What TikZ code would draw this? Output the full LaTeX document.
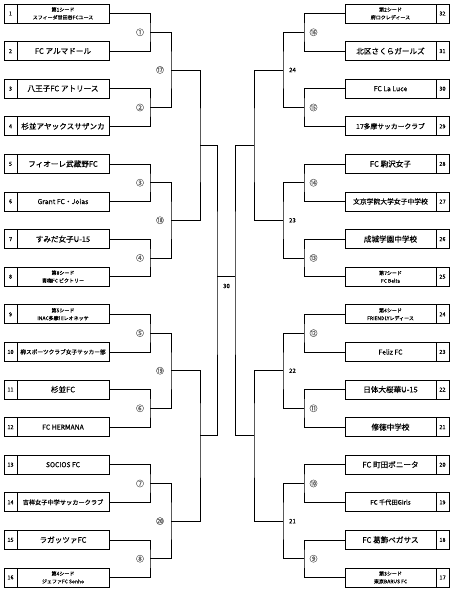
\documentclass[tikz,border=0pt]{standalone}
\usepackage{fontspec}
\setmainfont{Noto Sans CJK JP}[FakeBold=0.4]
\newfontfamily\circfont{Noto Sans CJK JP}[FakeBold=1]
\begin{document}
\begin{tikzpicture}[x=1pt,y=-1pt,
  line/.style={line width=0.8pt},
  numcell/.style={draw, line width=0.8pt, minimum width=13pt, minimum height=19pt, inner sep=0pt, font=\fontsize{5.5}{6}\selectfont},
  namecell/.style={draw, line width=0.8pt, minimum width=92pt, minimum height=19pt, inner sep=0pt, align=center, font=\fontsize{7.6}{8}\selectfont},
  rnamecell/.style={namecell, minimum width=91pt},
  seed/.style={font=\fontsize{5}{7.8}\selectfont},
  small/.style={font=\fontsize{6.8}{8}\selectfont},
  tiny/.style={font=\fontsize{6.2}{8}\selectfont},
  tinier/.style={font=\fontsize{5.7}{8}\selectfont},
  rlabel/.style={font=\circfont\fontsize{8}{8}\selectfont, text=black!60, inner sep=0pt},
  nlabel/.style={font=\fontsize{6}{7}\selectfont, inner sep=0pt}
]
\useasboundingbox (0,0) rectangle (454,589);

% ---------- number cells ----------
\foreach \i in {1,...,16}{
  \pgfmathsetmacro\yy{13.5+(\i-1)*37.6}
  \node[numcell] (Ln\i) at (10.5,\yy) {\i};
  \pgfmathtruncatemacro\rn{33-\i}
  \node[numcell] (Rn\i) at (442.5,\yy) {\rn};
}

% ---------- left names ----------
\node[namecell,seed] (L1) at (63,13.5) {第1シード\\スフィーダ世田谷FCユース};
\node[namecell] (L2) at (63,51.1) {FC アルマドール};
\node[namecell] (L3) at (63,88.7) {八王子FC アトリース};
\node[namecell] (L4) at (63,126.3) {杉並アヤックスサザンカ};
\node[namecell] (L5) at (63,163.9) {フィオーレ武蔵野FC};
\node[namecell,small] (L6) at (63,201.5) {Grant FC・Joias};
\node[namecell] (L7) at (63,239.1) {すみだ女子U-15};
\node[namecell,seed] (L8) at (63,276.7) {第8シード\\青梅FC ビクトリー};
\node[namecell,seed] (L9) at (63,314.3) {第5シード\\INAC多摩川レオネッサ};
\node[namecell,tinier] (L10) at (63,351.9) {柳スポーツクラブ女子サッカー部};
\node[namecell] (L11) at (63,389.5) {杉並FC};
\node[namecell,small] (L12) at (63,427.1) {FC HERMANA};
\node[namecell,small] (L13) at (63,464.7) {SOCIOS FC};
\node[namecell,tiny] (L14) at (63,502.3) {吉祥女子中学サッカークラブ};
\node[namecell] (L15) at (63,539.9) {ラガッツァFC};
\node[namecell,seed] (L16) at (63,577.5) {第4シード\\ジェファFC Sonho};

% ---------- right names ----------
\node[rnamecell,seed] (R1) at (390.5,13.5) {第2シード\\府ロクレディース};
\node[rnamecell] (R2) at (390.5,51.1) {北区さくらガールズ};
\node[rnamecell,small] (R3) at (390.5,88.7) {FC La Luce};
\node[rnamecell,small] (R4) at (390.5,126.3) {17多摩サッカークラブ};
\node[rnamecell] (R5) at (390.5,163.9) {FC 駒沢女子};
\node[rnamecell,small] (R6) at (390.5,201.5) {文京学院大学女子中学校};
\node[rnamecell] (R7) at (390.5,239.1) {成城学園中学校};
\node[rnamecell,seed] (R8) at (390.5,276.7) {第7シード\\FC Belta};
\node[rnamecell,seed] (R9) at (390.5,314.3) {第6シード\\FRIENDLYレディース};
\node[rnamecell,small] (R10) at (390.5,351.9) {Feliz FC};
\node[rnamecell] (R11) at (390.5,389.5) {日体大桜華U-15};
\node[rnamecell] (R12) at (390.5,427.1) {修徳中学校};
\node[rnamecell] (R13) at (390.5,464.7) {FC 町田ボニータ};
\node[rnamecell,tiny] (R14) at (390.5,502.3) {FC 千代田Girls};
\node[rnamecell] (R15) at (390.5,539.9) {FC 葛飾ペガサス};
\node[rnamecell,seed] (R16) at (390.5,577.5) {第3シード\\東京BARUS FC};

% ---------- match points ----------
\foreach \k/\y in {1/32.3,2/107.5,3/182.7,4/257.9,5/333.1,6/408.3,7/483.5,8/558.7}{
  \coordinate (m\k) at (150,\y);
  \coordinate (rm\k) at (304,\y);
}
\foreach \k/\y in {1/69.9,2/220.3,3/370.7,4/521.1}{
  \coordinate (q\k) at (171,\y);
  \coordinate (rq\k) at (283,\y);
}
\coordinate (s1) at (200,145.1);
\coordinate (s2) at (200,435);
\coordinate (rs1) at (254,145.1);
\coordinate (rs2) at (254,435);
\coordinate (fL) at (217,276);
\coordinate (fR) at (235,276);

% ---------- first round ----------
\foreach \k in {1,...,8}{
  \pgfmathtruncatemacro\a{2*\k-1}
  \pgfmathtruncatemacro\b{2*\k}
  \draw[line] (L\a.east) -| (m\k) |- (L\b.east);
  \draw[line] (R\a.west) -| (rm\k) |- (R\b.west);
}
% ---------- second round ----------
\foreach \k in {1,...,4}{
  \pgfmathtruncatemacro\a{2*\k-1}
  \pgfmathtruncatemacro\b{2*\k}
  \draw[line] (m\a) -| (q\k) |- (m\b);
  \draw[line] (rm\a) -| (rq\k) |- (rm\b);
}
% ---------- semifinals ----------
\draw[line] (q1) -| (s1) |- (q2);
\draw[line] (q3) -| (s2) |- (q4);
\draw[line] (rq1) -| (rs1) |- (rq2);
\draw[line] (rq3) -| (rs2) |- (rq4);
% ---------- final ----------
\draw[line] (s1) -| (fL) |- (s2);
\draw[line] (rs1) -| (fR) |- (rs2);
\draw[line] (fL) -- (fR);

% ---------- labels ----------
\foreach \k/\t in {1/①,2/②,3/③,4/④,5/⑤,6/⑥,7/⑦,8/⑧}{
  \node[rlabel] (lab\k) at ([xshift=-10pt]m\k) {\t};
}
\foreach \k/\t in {1/⑯,2/⑮,3/⑭,4/⑬,5/⑫,6/⑪,7/⑩,8/⑨}{
  \node[rlabel] (rlab\k) at ([xshift=9.5pt]rm\k) {\t};
}
\foreach \k/\t in {1/⑰,2/⑱,3/⑲,4/⑳}{
  \node[rlabel] (qlab\k) at ([xshift=-11pt]q\k) {\t};
}
\foreach \k/\t in {1/24,2/23,3/22,4/21}{
  \node[nlabel] (rqlab\k) at ([xshift=9.5pt]rq\k) {\t};
}
\node[nlabel] (flab) at (226.5,286) {30};
\end{tikzpicture}
\end{document}
